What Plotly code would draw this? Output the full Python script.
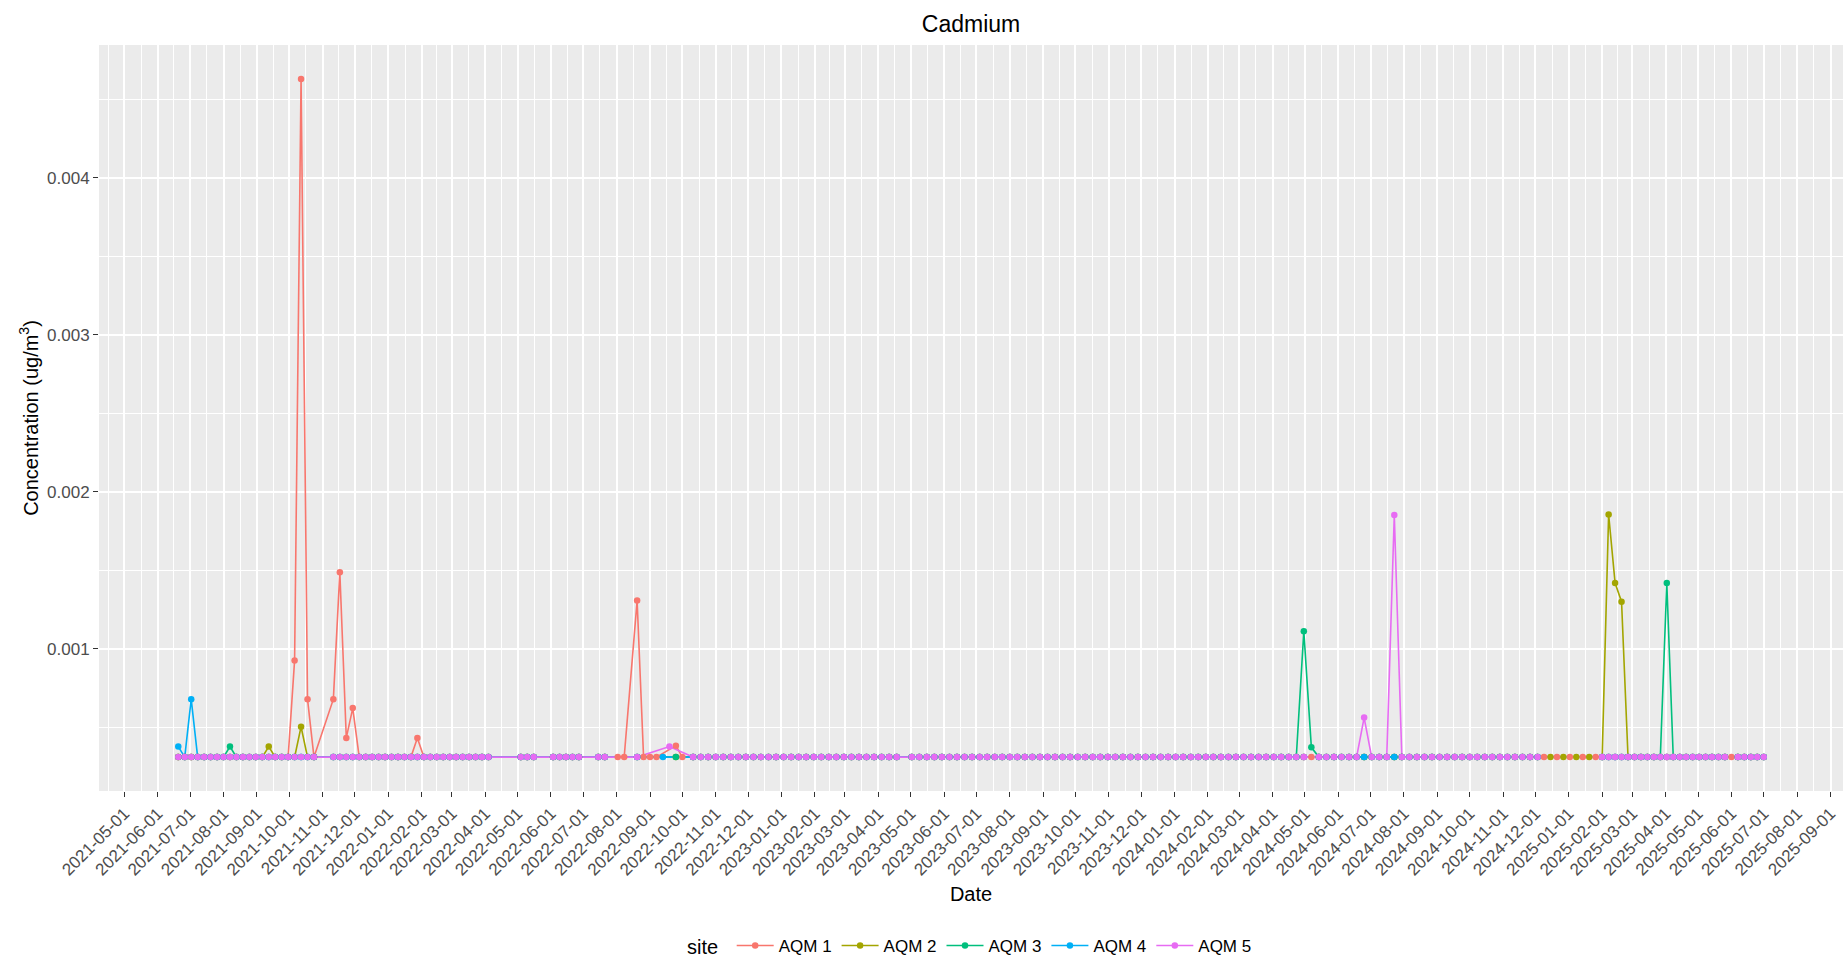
import pandas as pd
import plotly.graph_objects as go

# ---------------- data ----------------
SITES = ["AQM 1", "AQM 2", "AQM 3", "AQM 4", "AQM 5"]
COLORS = ["#F8766D", "#A3A500", "#00BF7D", "#00B0F6", "#E76BF3"]

# value plotted for every non-detect sample (flat baseline)
LOD = 0.00031

# sampling schedule segments: (first date, last date, step in days)
EARLY = [("2021-06-20", "2021-10-24", 6), ("2021-11-11", "2022-04-04", 6),
         ("2022-05-04", "2022-05-16", 6), ("2022-06-03", "2022-06-27", 6),
         ("2022-07-15", "2022-07-21", 6)]
WEEKLY = [("2022-10-11", "2024-12-03", 7)]
LATE = [("2025-02-01", "2025-07-01", 6)]

SEG_AQM1 = EARLY + [("2022-08-02", "2022-08-08", 6), ("2022-08-20", "2022-09-07", 6),
                    ("2022-09-25", "2022-10-01", 6)] + WEEKLY + \
           [("2024-12-09", "2025-01-26", 12)] + LATE
SEG_AQM2 = EARLY + [("2022-08-20", "2022-08-20", 6), ("2022-09-25", "2022-09-25", 6)] + WEEKLY + \
           [("2024-12-15", "2025-01-20", 12)] + LATE
SEG_AQM3 = EARLY + [("2022-08-20", "2022-08-20", 6), ("2022-09-25", "2022-09-25", 6)] + WEEKLY + LATE
SEG_AQM4 = EARLY + [("2022-08-20", "2022-08-20", 6), ("2022-09-13", "2022-09-13", 6)] + WEEKLY + LATE
SEG_AQM5 = EARLY + [("2022-08-20", "2022-08-20", 6), ("2022-09-19", "2022-09-19", 6)] + WEEKLY + LATE

# dates with no sample for a site
SKIP_AQM1 = ["2023-04-25"]
SKIP_AQM2 = ["2023-04-25", "2024-05-07", "2025-06-01"]
SKIP_AQM3 = ["2023-04-25", "2025-06-01"]
SKIP_AQM4 = ["2023-04-25", "2024-05-07", "2025-06-01"]
SKIP_AQM5 = ["2023-04-25", "2024-05-07", "2025-06-01"]

# detected concentrations (ug/m3)
PEAK_DATES_AQM1 = ["2021-10-06", "2021-10-12", "2021-10-18", "2021-11-11", "2021-11-17",
                   "2021-11-23", "2021-11-29", "2022-01-28", "2022-08-20", "2022-09-25"]
PEAK_VALS_AQM1 = [0.000926, 0.00463, 0.000679, 0.000679, 0.001488,
                  0.000432, 0.000622, 0.000432, 0.001307, 0.000383]
PEAK_DATES_AQM2 = ["2021-09-12", "2021-10-12", "2025-02-07", "2025-02-13", "2025-02-19"]
PEAK_VALS_AQM2 = [0.000377, 0.000503, 0.001856, 0.001419, 0.0013]
PEAK_DATES_AQM3 = ["2021-08-07", "2024-04-30", "2024-05-07", "2025-04-02"]
PEAK_VALS_AQM3 = [0.000377, 0.001112, 0.000372, 0.001419]
PEAK_DATES_AQM4 = ["2021-06-20", "2021-07-02"]
PEAK_VALS_AQM4 = [0.000377, 0.000679]
PEAK_DATES_AQM5 = ["2022-09-19", "2024-06-25", "2024-07-23"]
PEAK_VALS_AQM5 = [0.000377, 0.000562, 0.001852]

SEGMENTS = [SEG_AQM1, SEG_AQM2, SEG_AQM3, SEG_AQM4, SEG_AQM5]
SKIPS = [SKIP_AQM1, SKIP_AQM2, SKIP_AQM3, SKIP_AQM4, SKIP_AQM5]
PEAK_DATES = [PEAK_DATES_AQM1, PEAK_DATES_AQM2, PEAK_DATES_AQM3, PEAK_DATES_AQM4, PEAK_DATES_AQM5]
PEAK_VALS = [PEAK_VALS_AQM1, PEAK_VALS_AQM2, PEAK_VALS_AQM3, PEAK_VALS_AQM4, PEAK_VALS_AQM5]

Y_TICKS = [0.001, 0.002, 0.003, 0.004]
Y_TICK_LABELS = ["0.001", "0.002", "0.003", "0.004"]
X_TICK_START, X_TICK_END = "2021-05-01", "2025-09-01"


def build_series(segments, skips, pdates, pvals):
    dates = set()
    for a, b, step in segments:
        for d in pd.date_range(a, b, freq=f"{step}D"):
            dates.add(d)
    for s in skips:
        dates.discard(pd.Timestamp(s))
    peaks = {pd.Timestamp(d): v for d, v in zip(pdates, pvals)}
    for d in peaks:
        dates.add(d)
    dates = sorted(dates)
    vals = [peaks.get(d, LOD) for d in dates]
    return dates, vals


series = [build_series(SEGMENTS[i], SKIPS[i], PEAK_DATES[i], PEAK_VALS[i]) for i in range(5)]

fig = go.Figure()
# lines first (all sites), then points (all sites), like geom_line() + geom_point()
for i, site in enumerate(SITES):
    x, y = series[i]
    fig.add_trace(go.Scatter(x=x, y=y, mode="lines", line=dict(color=COLORS[i], width=1.6),
                             showlegend=False, legendgroup=site, hoverinfo="skip"))
for i, site in enumerate(SITES):
    x, y = series[i]
    fig.add_trace(go.Scatter(x=x, y=y, mode="markers", marker=dict(color=COLORS[i], size=6.5),
                             showlegend=False, legendgroup=site, name=site))
for i, site in enumerate(SITES):
    fig.add_trace(go.Scatter(x=[None], y=[None], mode="lines+markers", name=site,
                             line=dict(color=COLORS[i], width=1.6),
                             marker=dict(color=COLORS[i], size=6.5), legendgroup=site))

all_x = [d for s in series for d in s[0]]
all_y = [v for s in series for v in s[1]]
xmin, xmax = min(all_x), max(all_x)
xpad = (xmax - xmin) * 0.05
ymin, ymax = min(all_y), max(all_y)
ypad = (ymax - ymin) * 0.05

major = pd.date_range(X_TICK_START, X_TICK_END, freq="MS")
prev = [major[0] - pd.DateOffset(months=1)] + list(major[:-1])
minor = [a + (b - a) / 2 for a, b in zip(prev, major)]
minor.append(major[-1] + (major[-1] + pd.DateOffset(months=1) - major[-1]) / 2)

FONT = "Liberation Sans, Arial, sans-serif"
TICK_FONT = dict(family=FONT, size=17, color="#4D4D4D")

fig.update_layout(
    width=1845, height=966,
    margin=dict(l=99, r=2, t=45, b=170),
    paper_bgcolor="white", plot_bgcolor="#EBEBEB",
    font=dict(family=FONT, color="black"),
    title=dict(text="Cadmium", x=0.5, xref="paper", xanchor="center",
               y=1 - 24 / 966, yanchor="middle", font=dict(size=23, color="black")),
    legend=dict(orientation="h", x=0.5, xanchor="center", y=-0.2077, yanchor="middle",
                title=dict(text="site ", font=dict(size=20, color="black")),
                itemwidth=37,
                font=dict(size=17, color="black"), bgcolor="rgba(0,0,0,0)"),
    xaxis=dict(
        type="date", range=[xmin - xpad, xmax + xpad],
        tickmode="array", tickvals=list(major), ticktext=[d.strftime("%Y-%m-%d") for d in major],
        tickangle=-45, tickfont=TICK_FONT,
        ticks="outside", ticklen=5, tickwidth=1, tickcolor="#333333",
        showgrid=True, gridcolor="white", gridwidth=1.8,
        minor=dict(tickmode="array", tickvals=minor, showgrid=True, gridcolor="white",
                   gridwidth=1, ticks=""),
        zeroline=False, showline=False,
        title=dict(text="Date", font=dict(size=20, color="black"), standoff=8),
    ),
    yaxis=dict(
        range=[ymin - ypad, ymax + ypad],
        tickmode="array", tickvals=Y_TICKS, ticktext=Y_TICK_LABELS, tickfont=TICK_FONT,
        ticks="outside", ticklen=5, tickwidth=1, tickcolor="#333333",
        showgrid=True, gridcolor="white", gridwidth=1.8,
        minor=dict(tickmode="array", tickvals=[0.0005, 0.0015, 0.0025, 0.0035, 0.0045],
                   showgrid=True, gridcolor="white", gridwidth=1, ticks=""),
        zeroline=False, showline=False,
        title=dict(text="Concentration (ug/m<sup>3</sup>)", font=dict(size=20, color="black"),
                   standoff=3),
    ),
)

fig.write_html("out.html")
